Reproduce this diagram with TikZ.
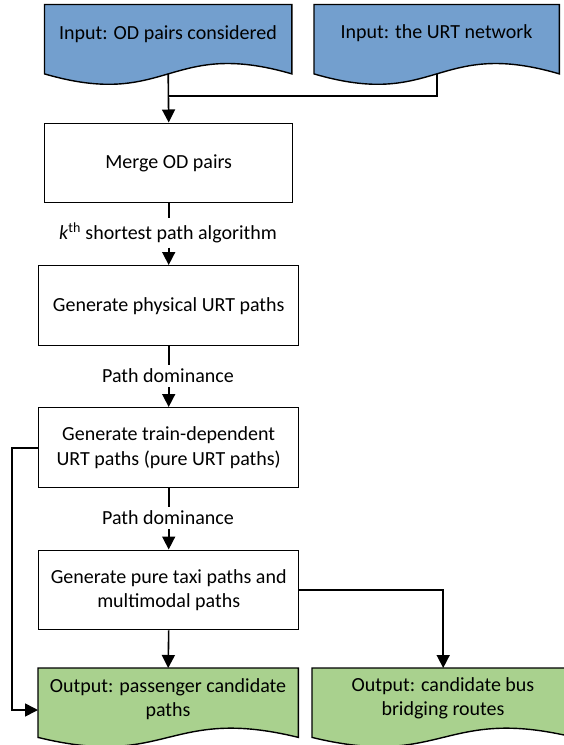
\documentclass[tikz,border=0pt]{standalone}
\usepackage{fontspec}
\setmainfont{Carlito}
\usetikzlibrary{arrows.meta,calc}
\definecolor{inblue}{RGB}{115,159,206}
\definecolor{outgreen}{RGB}{169,209,142}
\tikzset{
  every node/.style={font=\fontsize{20}{24.4}\selectfont},
  stepbox/.style={draw, line width=1.4pt, fill=white, minimum width=260pt,
    minimum height=80pt, align=center, inner sep=0pt, anchor=north west},
  docarea/.style={minimum width=#1, minimum height=69pt, inner sep=0pt, anchor=north west},
  doctext/.style={align=center, inner sep=0pt},
  conn/.style={line width=1.6pt},
  arr/.style={conn, -{Triangle[length=13pt,width=13pt]}},
  steplabel/.style={inner xsep=2pt, inner ysep=4pt},
}
% outline of a document shape over an (invisible) area node: flat top,
% wavy lower edge; #1 area node, #2 fill colour, #3 bulge of the lower edge
\newcommand\docpath[3]{%
  \draw[line width=1.4pt, fill=#2] (#1.north west) -- (#1.north east) -- (#1.south east)
    .. controls ($(#1.south)+(0,-#3)$) and ($(#1.south)+(0,#3)$) .. (#1.south west) -- cycle;}
\begin{document}
\begin{tikzpicture}[x=1pt, y=-1pt]
\useasboundingbox (0,0) rectangle (564,745);
\clip (0,0) rectangle (564,745);

% inputs
\node[docarea=247pt] (in1) at (44.5,4.5) {};
\docpath{in1}{inblue}{36}
\node[doctext] (in1t) at (168,34) {Input: OD pairs considered};

\node[docarea=245pt] (in2) at (314,4.5) {};
\docpath{in2}{inblue}{36}
\node[doctext] (in2t) at (436.5,33) {Input: the URT network};

% processing steps
\node[stepbox, minimum width=248pt, minimum height=79.5pt] (merge) at (44,122.5) {Merge OD pairs};
\node[steplabel] (lab1) at (168,233) {\textit{k}\textsuperscript{th} shortest path algorithm};
\node[stepbox] (phys) at (38,265) {Generate physical URT paths};
\node[steplabel] (lab2) at (168,376) {Path dominance};
\node[stepbox] (td) at (38,407) {Generate train-dependent\\URT paths (pure URT paths)};
\node[steplabel] (lab3) at (168,518) {Path dominance};
\node[stepbox, minimum height=79.5pt] (taxi) at (38,549.5) {Generate pure taxi paths and\\multimodal paths};

% outputs
\node[docarea=260pt] (outL) at (38,668) {};
\docpath{outL}{outgreen}{32}
\node[doctext] (outLt) at (168,699) {Output: passenger candidate\\paths};

\node[docarea=262pt] (outR) at (312,668) {};
\docpath{outR}{outgreen}{32}
\node[doctext] (outRt) at (443,698) {Output: candidate bus\\bridging routes};

% connectors
\coordinate (join) at (168,96);
\coordinate (outLin) at (38,710);
\draw[arr] (in1.south) -- (merge.north);
\draw[conn] (in2.south) |- (join);
\draw[conn] (merge.south) -- (merge.south |- lab1.north);
\draw[arr] (lab1.south -| phys.north) -- (phys.north);
\draw[conn] (phys.south) -- (phys.south |- lab2.north);
\draw[arr] (lab2.south -| td.north) -- (td.north);
\draw[conn] (td.south) -- (td.south |- lab3.north);
\draw[arr] (lab3.south -| taxi.north) -- (taxi.north);
\draw[arr] (taxi.south) -- (outL.north);
\draw[arr] (taxi.east) -| (outR.north);
\draw[arr] (td.west) -- ++(-26,0) |- (outLin);
\end{tikzpicture}
\end{document}
